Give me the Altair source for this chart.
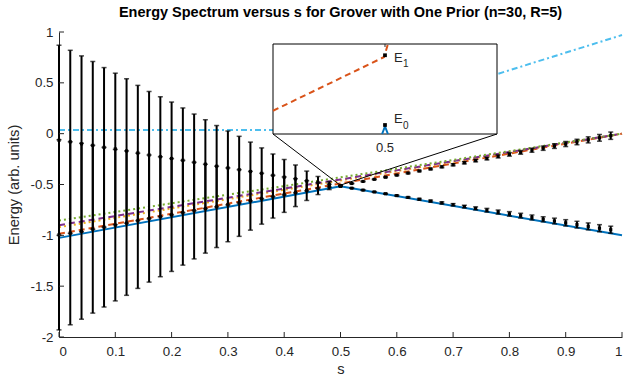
import altair as alt
import pandas as pd

# ---------------- text ----------------
TITLE = "Energy Spectrum versus s for Grover with One Prior (n=30, R=5)"
X_TITLE = "s"
Y_TITLE = "Energy (arb. units)"

x_ticks = [0, 0.1, 0.2, 0.3, 0.4, 0.5, 0.6, 0.7, 0.8, 0.9, 1]
y_ticks = [-2, -1.5, -1, -0.5, 0, 0.5, 1]

# ---------------- spectrum lines ----------------
line_s = [0.0, 0.5, 1.0]
E0 = [-1.025, -0.518, -1.0]
E1 = [-0.985, -0.49, 0.0]
E2 = [-0.92, -0.46, 0.0]
E3 = [-0.90, -0.45, 0.0]
E4 = [-0.855, -0.43, 0.0]
E5_s = [0.0, 0.46, 1.0]
E5 = [0.035, 0.035, 0.97]

# ---------------- error bars ----------------
bar_s_left = [0.00, 0.02, 0.04, 0.06, 0.08, 0.10, 0.12, 0.14, 0.16, 0.18, 0.20, 0.22, 0.24,
              0.26, 0.28, 0.30, 0.32, 0.34, 0.36, 0.38, 0.40, 0.42, 0.44, 0.46, 0.48]
left_lower_mean = [-0.995, -0.98, -0.96, -0.94, -0.92, -0.90, -0.88, -0.857, -0.835, -0.817, -0.80,
                   -0.778, -0.757, -0.738, -0.72, -0.70, -0.682, -0.66, -0.64, -0.62, -0.60, -0.58,
                   -0.56, -0.54, -0.524]
left_upper_mean = [-0.065, -0.08, -0.10, -0.115, -0.135, -0.15, -0.17, -0.19, -0.21, -0.227, -0.244,
                   -0.262, -0.282, -0.30, -0.32, -0.337, -0.354, -0.372, -0.39, -0.41, -0.428, -0.445,
                   -0.465, -0.48, -0.498]
left_err = [0.935, 0.90, 0.865, 0.825, 0.785, 0.745, 0.71, 0.665, 0.625, 0.59, 0.555, 0.515, 0.475,
            0.437, 0.40, 0.363, 0.328, 0.289, 0.25, 0.21, 0.174, 0.137, 0.097, 0.059, 0.026]

bar_s_right = [0.50, 0.52, 0.54, 0.56, 0.58, 0.60, 0.62, 0.64, 0.66, 0.68, 0.70, 0.72, 0.74,
               0.76, 0.78, 0.80, 0.82, 0.84, 0.86, 0.88, 0.90, 0.92, 0.94, 0.96, 0.98]
right_upper_mean = [-0.51, -0.49, -0.47, -0.449, -0.428, -0.408, -0.388, -0.367, -0.347, -0.326,
                    -0.306, -0.286, -0.265, -0.245, -0.224, -0.204, -0.184, -0.163, -0.143, -0.122,
                    -0.102, -0.082, -0.061, -0.041, -0.02]
right_upper_err = [0.003, 0.003, 0.004, 0.004, 0.005, 0.005, 0.006, 0.007, 0.008, 0.009, 0.01, 0.011,
                   0.012, 0.013, 0.015, 0.017, 0.018, 0.02, 0.021, 0.023, 0.025, 0.027, 0.03, 0.033, 0.036]
right_lower_mean = [-0.518, -0.536, -0.555, -0.573, -0.591, -0.609, -0.627, -0.645, -0.663, -0.681,
                    -0.699, -0.717, -0.735, -0.753, -0.771, -0.789, -0.806, -0.824, -0.842, -0.859,
                    -0.877, -0.895, -0.912, -0.93, -0.945]
right_lower_err = [0.003, 0.003, 0.004, 0.004, 0.005, 0.006, 0.007, 0.008, 0.009, 0.01, 0.011, 0.013,
                   0.015, 0.018, 0.02, 0.022, 0.023, 0.024, 0.025, 0.028, 0.031, 0.033, 0.034, 0.035, 0.035]

# ---------------- inset (zoom on s = 0.5) ----------------
inset_s_dom = [0.4995, 0.5005]
inset_e_dom = [-0.520, -0.508]
inset_e1_s = [0.4995, 0.499978, 0.499996, 0.500013]
inset_e1 = [-0.5169, -0.5100, -0.50973, -0.5080]
inset_e0_s = [0.499987, 0.5, 0.500013]
inset_e0 = [-0.5200, -0.5190, -0.5200]
inset_pt_s = [0.5, 0.5]
inset_pt_e = [-0.5095, -0.5188]
inset_lbl = ["E", "E"]
inset_sub = ["1", "0"]
inset_tick_lbl = ["0.5"]
conn_target = (0.4995, -0.507)

# ---------------- layout ----------------
W, H = 563, 305
PAD = {"left": 59, "top": 32, "right": 4, "bottom": 45}
INSET_PX = (214, 438, 12, 102)  # left, right, top, bottom inside plot area
LABEL_DY = {"1": (3, 9), "0": (-6, 1)}  # (letter, subscript) vertical offsets
FONT = "Liberation Sans"
GREY = "#262626"

x_scale = alt.Scale(domain=[0, 1], nice=False, zero=False)
y_scale = alt.Scale(domain=[-2, 1], nice=False, zero=False)
minus_fix = "replace(datum.label, '\u2212', '-')"
x_axis = alt.Axis(values=x_ticks, format=".1~f", title=X_TITLE, ticks=False, grid=False,
                  labelPadding=7, titlePadding=4, labelExpr=minus_fix)
y_axis = alt.Axis(values=y_ticks, format=".1~f", title=Y_TITLE, ticks=False, grid=False,
                  labelPadding=6, titlePadding=9, labelExpr=minus_fix)


def X(f):
    return alt.X(f, type="quantitative", scale=x_scale, axis=x_axis)


def Y(f):
    return alt.Y(f, type="quantitative", scale=y_scale, axis=y_axis)


# lines
series = [
    (line_s, E0, "#0072BD", None),
    (line_s, E1, "#D95319", [6, 4]),
    (line_s, E2, "#EDB120", [2, 3]),
    (line_s, E3, "#7E2F8E", [6, 4]),
    (line_s, E4, "#77AC30", [2, 3]),
    (E5_s, E5, "#4DBEEE", [6, 3, 2, 3]),
]
line_layers = []
for xs, ys, col, dash in series:
    df = pd.DataFrame({"s": xs, "E": ys})
    kw = dict(color=col, strokeWidth=2)
    if dash is not None:
        kw["strokeDash"] = dash
    line_layers.append(alt.Chart(df).mark_line(**kw).encode(x=X("s"), y=Y("E")))

bars_df = pd.concat([
    pd.DataFrame({"s": bar_s_left, "mean": left_lower_mean, "err": left_err}),
    pd.DataFrame({"s": bar_s_left, "mean": left_upper_mean, "err": left_err}),
    pd.DataFrame({"s": bar_s_right, "mean": right_upper_mean, "err": right_upper_err}),
    pd.DataFrame({"s": bar_s_right, "mean": right_lower_mean, "err": right_lower_err}),
], ignore_index=True)
bars = alt.Chart(bars_df).transform_calculate(lo="datum.mean - datum.err", hi="datum.mean + datum.err")
bar_rule = bars.mark_rule(color="black", strokeWidth=2).encode(x=X("s"), y=Y("lo"), y2="hi:Q")
cap_lo = bars.mark_tick(color="black", orient="horizontal", size=5, thickness=1.5).encode(x=X("s"), y=Y("lo"))
cap_hi = bars.mark_tick(color="black", orient="horizontal", size=5, thickness=1.5).encode(x=X("s"), y=Y("hi"))
marks = bars.mark_square(color="black", size=10, opacity=1).encode(x=X("s"), y=Y("mean"))

# axis ticks drawn inward
xt = alt.Chart(pd.DataFrame({"v": x_ticks})).mark_rule(color=GREY, strokeWidth=1).encode(
    x=X("v"), y=alt.value(H), y2=alt.value(H - 5))
yt = alt.Chart(pd.DataFrame({"v": y_ticks})).mark_rule(color=GREY, strokeWidth=1).encode(
    y=Y("v"), x=alt.value(0), x2=alt.value(5))


# connectors from inset corners to the crossing point
def px_to_s(px):
    return px / W


def px_to_e(py):
    return 1 - py * 3 / H


conn_df = pd.DataFrame({
    "sa": [px_to_s(INSET_PX[0]), px_to_s(INSET_PX[1])],
    "ea": [px_to_e(INSET_PX[3]), px_to_e(INSET_PX[3])],
    "sb": [conn_target[0], conn_target[0]],
    "eb": [conn_target[1], conn_target[1]],
})
conn = alt.Chart(conn_df).mark_rule(color="black", strokeWidth=1).encode(
    x=X("sa"), y=Y("ea"), x2="sb:Q", y2="eb:Q")

main = alt.layer(*line_layers, bar_rule, cap_lo, cap_hi, marks, xt, yt, conn)

# ---- inset ----
ix_scale = alt.Scale(domain=inset_s_dom, range=[INSET_PX[0], INSET_PX[1]], nice=False, zero=False)
iy_scale = alt.Scale(domain=inset_e_dom, range=[INSET_PX[3], INSET_PX[2]], nice=False, zero=False)


def IX(f):
    return alt.X(f, type="quantitative", scale=ix_scale, axis=None)


def IY(f):
    return alt.Y(f, type="quantitative", scale=iy_scale, axis=None)


box_df = pd.DataFrame({"s0": [inset_s_dom[0]], "s1": [inset_s_dom[1]],
                       "e0": [inset_e_dom[0]], "e1": [inset_e_dom[1]]})
box = alt.Chart(box_df).mark_rect(fill="white", stroke="black", strokeWidth=1).encode(
    x=IX("s0"), x2="s1:Q", y=IY("e0"), y2="e1:Q")
i_e1 = alt.Chart(pd.DataFrame({"s": inset_e1_s, "E": inset_e1})).mark_line(
    color="#D95319", strokeWidth=2, strokeDash=[6, 4]).encode(x=IX("s"), y=IY("E"))
i_e0 = alt.Chart(pd.DataFrame({"s": inset_e0_s, "E": inset_e0})).mark_line(
    color="#0072BD", strokeWidth=2).encode(x=IX("s"), y=IY("E"))
pts_df = pd.DataFrame({"s": inset_pt_s, "E": inset_pt_e, "lbl": inset_lbl, "sub": inset_sub})
i_pts = alt.Chart(pts_df).mark_square(color="black", size=14, opacity=1).encode(x=IX("s"), y=IY("E"))

label_layers = []
for sub_txt, (dy_l, dy_s) in LABEL_DY.items():
    base = alt.Chart(pts_df).transform_filter(alt.datum.sub == sub_txt)
    label_layers.append(base.mark_text(align="left", baseline="middle", dx=9, dy=dy_l, font=FONT,
                                       fontSize=13, color=GREY).encode(x=IX("s"), y=IY("E"), text="lbl:N"))
    label_layers.append(base.mark_text(align="left", baseline="middle", dx=18, dy=dy_s, font=FONT,
                                       fontSize=10, color=GREY).encode(x=IX("s"), y=IY("E"), text="sub:N"))

tick_df = pd.DataFrame({"s": [0.5], "lo": [inset_e_dom[0]], "hi": [inset_e_dom[1]],
                        "t": inset_tick_lbl})
i_tick_top = alt.Chart(tick_df).mark_rule(color=GREY, strokeWidth=1).encode(
    x=IX("s"), y=IY("hi"), y2=alt.value(INSET_PX[2] + 3))
i_tick_lbl = alt.Chart(tick_df).mark_text(baseline="middle", dy=14, font=FONT, fontSize=13,
                                          color=GREY).encode(x=IX("s"), y=IY("lo"), text="t:N")

inset = alt.layer(box, i_e1, i_e0, i_pts, *label_layers, i_tick_top, i_tick_lbl)

chart = alt.layer(main, inset).resolve_scale(x="independent", y="independent").properties(
    width=W, height=H,
    title=alt.TitleParams(TITLE, font=FONT, fontSize=14.5, fontWeight="bold", color="black",
                          anchor="middle", offset=5),
    autosize=alt.AutoSizeParams(type="none"),
    padding=PAD,
).configure_view(stroke=None).configure_axis(
    labelFont=FONT, labelFontSize=13.3, labelColor=GREY, titleFont=FONT, titleFontSize=14.67,
    titleFontWeight="normal", titleColor=GREY, domainColor=GREY, domainWidth=1,
)

chart.save("out.html", embed_options={"renderer": "svg", "actions": False})
